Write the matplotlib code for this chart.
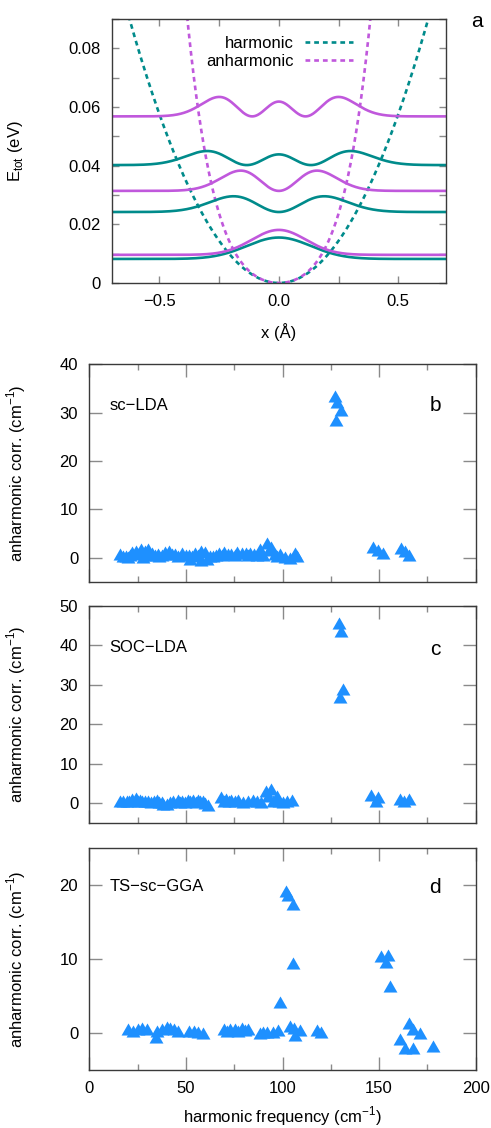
import numpy as np
import matplotlib
matplotlib.use("Agg")
import matplotlib.pyplot as plt
from matplotlib.lines import Line2D
from matplotlib.ticker import MultipleLocator

plt.rcParams['font.family'] = ['Liberation Sans', 'DejaVu Sans']
plt.rcParams['font.size'] = 12
plt.rcParams['axes.unicode_minus'] = True

# ---------------- panel a: potentials and vibrational densities ----------------
# harmonic potential E = k2 x^2 ; anharmonic E = k2 x^2 + k4 x^4 + k6 x^6  (eV, Angstrom)
harm_k = [0.23]
anh_k = [0.23, 2.2, 2.8]

# vibrational states: energy level (eV), quantum number, length scale (A), density scale (eV)
harm_levels = [0.0082, 0.0242, 0.0402]
harm_n = [0, 1, 2]
harm_x0 = [0.19, 0.19, 0.19]
harm_amp = [0.0073, 0.0073, 0.0073]

anh_levels = [0.0096, 0.0314, 0.0568]
anh_n = [0, 1, 2]
anh_x0 = [0.16, 0.16, 0.158]
anh_amp = [0.0085, 0.0094, 0.0101]

# ---------------- panels b-d: anharmonic corrections ----------------
lda_freq = [15.9, 17.5, 18.8, 20.0, 21.0, 22.3, 24.0, 25.2, 26.6, 28.0, 28.8, 30.5,
            31.5, 32.6, 34.0, 35.7, 36.0, 37.5, 39.2, 41.2, 42.8, 44.3, 46.0, 48.1,
            50.0, 51.7, 52.0, 53.2, 54.7, 56.2, 57.8, 58.0, 59.8, 61.0, 62.5, 64.1,
            65.5, 67.1, 68.5, 69.8, 72.0, 73.6, 75.2, 76.7, 78.8, 80.9, 82.0, 83.1,
            85.3, 86.8, 88.3, 90.0, 92.2, 93.0, 94.3, 96.0, 97.0, 98.6, 101.2, 104.0,
            106.4, 107.5,
            127.0, 128.0, 130.5, 127.5,
            147.0, 149.5, 152.0, 161.5, 163.5, 165.5]
lda_corr = [0.7, 0.4, 0.3, 0.1, 0.6, 1.2, 1.4, 0.8, 1.7, 0.2, 1.3, 1.7,
            0.6, 1.0, 0.5, 0.7, 0.3, 0.6, 1.2, 1.3, 0.8, 0.7, 0.4, 0.9,
            0.6, 0.5, -0.3, 0.4, 1.0, 0.6, 1.4, -0.4, 1.2, -0.3, 0.4, 0.3,
            0.5, 0.9, 0.5, 1.2, 0.7, 0.7, 0.5, 1.2, 1.0, 1.0, 0.6, 1.0,
            0.7, 0.5, 1.7, 0.5, 3.0, 1.5, 2.1, 0.8, 0.3, 0.7, 0.2, 0.0,
            1.0, 0.4,
            33.5, 32.3, 30.5, 28.5,
            2.2, 1.6, 0.9, 1.9, 1.3, 0.6]

soc_freq = [15.9, 17.5, 19.3, 20.5, 21.9, 24.0, 25.0, 26.2, 27.5, 28.8, 30.5, 32.0,
            33.5, 34.8, 36.0, 37.4, 38.0, 40.0, 41.8, 43.4, 45.7, 47.0, 48.1, 49.5,
            50.9, 52.3, 53.8, 55.0, 56.4, 57.5, 58.9, 60.0, 61.5, 68.1, 69.5, 71.0,
            72.3, 73.6, 75.2, 77.0, 79.6, 82.0, 84.5, 86.6, 89.0, 91.4, 92.5, 93.8,
            95.0, 96.9, 98.0, 100.0, 102.5, 104.7,
            129.0, 130.5, 131.5, 129.8,
            146.0, 148.5, 149.4, 160.7, 163.0, 165.5]
soc_corr = [0.6, 0.4, 0.6, 0.5, 1.0, 1.3, 0.5, 0.85, 0.4, 0.6, 0.6, 0.2,
            0.5, 0.85, 0.3, 0.2, -0.2, -0.25, 0.3, 0.4, 0.85, 0.3, 0.6, 0.3,
            0.85, 0.4, 0.85, 0.3, 0.85, 0.4, 0.4, 0.1, -0.5, 1.4, 0.5, 1.0,
            0.4, 0.85, 0.4, 0.85, 0.2, 0.4, 0.85, 0.6, 0.3, 3.1, 1.8, 3.6,
            0.6, 1.7, 0.4, 0.2, 0.5, 0.85,
            45.5, 43.5, 28.8, 26.8,
            1.9, 0.6, 1.4, 1.0, 0.5, 1.0]

ts_freq = [19.8, 22.5, 25.4, 27.4, 29.7, 34.3, 34.8, 37.4, 40.0, 41.7, 44.0, 46.0,
           51.6, 54.3, 56.5, 58.9, 69.8, 71.2, 72.8, 75.3, 77.0, 78.8, 80.5, 82.2,
           88.3, 90.0, 92.2, 95.0, 97.7, 103.8, 106.0, 106.5, 108.9, 117.6, 120.0,
           102.0, 103.0, 105.5, 105.5, 98.6,
           151.2, 154.6, 153.5, 155.5,
           165.5, 167.4, 171.4, 161.0, 163.2, 167.4, 177.9]
ts_corr = [0.5, 0.3, 0.6, 0.7, 0.5, -0.6, 0.27, 0.5, 0.8, 0.7, 0.5, 0.3,
           0.27, 0.27, 0.2, 0.05, 0.5, 0.3, 0.5, 0.5, 0.3, 0.7, 0.4, 0.6,
           0.05, 0.1, 0.2, 0.1, 0.36, 0.95, 0.7, -0.2, 0.36, 0.36, 0.2,
           19.2, 18.7, 17.4, 9.5, 4.2,
           10.4, 10.5, 9.6, 6.4,
           1.4, 0.5, 0.0, -0.8, -2.0, -2.0, -1.75]

TEAL = '#008b8b'
VIOLET = '#c058dc'
BLUE = '#1e90ff'
SPINE = '#3a3a3a'
TICK = '#8a8a8a'

W, H = 491, 1128
fig = plt.figure(figsize=(W / 100, H / 100), dpi=100)


def px_axes(l, t, r, b):
    return fig.add_axes([l / W, 1 - b / H, (r - l) / W, (b - t) / H])


def style_axes(ax, major_len, minor_len):
    for s in ax.spines.values():
        s.set_color(SPINE)
        s.set_linewidth(1.0)
    ax.tick_params(which='both', direction='in', top=True, right=True,
                   color=TICK, width=1.0, labelsize=12, pad=8)
    ax.tick_params(which='major', length=major_len)
    ax.tick_params(which='minor', length=minor_len)


def density(x, n, x0):
    xi = x / x0
    if n == 0:
        return np.exp(-xi ** 2)
    if n == 1:
        return 2 * xi ** 2 * np.exp(-xi ** 2)
    return (2 * xi ** 2 - 1) ** 2 / 2 * np.exp(-xi ** 2)


# ---- panel a ----
axa = px_axes(111.7, 19, 446, 283)
x = np.linspace(-0.7, 0.7, 1201)
v_harm = harm_k[0] * x ** 2
v_anh = anh_k[0] * x ** 2 + anh_k[1] * x ** 4 + anh_k[2] * x ** 6
dash = (1.8, 1.5)
axa.plot(x, v_harm, color=TEAL, lw=1.9, dashes=dash)
axa.plot(x, v_anh, color=VIOLET, lw=1.9, dashes=dash)
for lev, n, x0, a in zip(harm_levels, harm_n, harm_x0, harm_amp):
    axa.plot(x, lev + a * density(x, n, x0), color=TEAL, lw=1.9)
for lev, n, x0, a in zip(anh_levels, anh_n, anh_x0, anh_amp):
    axa.plot(x, lev + a * density(x, n, x0), color=VIOLET, lw=1.9)
axa.set_xlim(-0.7, 0.7)
axa.set_ylim(0, 0.09)
axa.set_xticks([-0.5, 0.0, 0.5])
axa.set_xticklabels(['\u22120.5', '0.0', '0.5'])
axa.xaxis.set_minor_locator(MultipleLocator(0.25))
axa.set_yticks([0, 0.02, 0.04, 0.06, 0.08])
axa.set_yticklabels(['0', '0.02', '0.04', '0.06', '0.08'])
axa.yaxis.set_minor_locator(MultipleLocator(0.01))
style_axes(axa, 5, 5)
axa.set_xlabel('x (\u00c5)', fontsize=12, labelpad=10)
axa.set_ylabel('E$_\\mathregular{tot}$ (eV)', fontsize=12)
axa.yaxis.set_label_coords(-0.259, 0.5)
handles = [Line2D([], [], color=TEAL, lw=1.9, dashes=dash),
           Line2D([], [], color=VIOLET, lw=1.9, dashes=dash)]
axa.legend(handles, ['harmonic', 'anharmonic'], loc='upper right',
           bbox_to_anchor=(0.7227, 0.935), markerfirst=False, frameon=False,
           handlelength=2.9, handletextpad=0.7, labelspacing=0.15,
           borderpad=0, borderaxespad=0, fontsize=12)
fig.text(476.7 / W, 1 - 26.7 / H, 'a', fontsize=15, ha='center', va='baseline')

# ---- panels b-d ----
tri = [(0, 0.87), (-1, -0.87), (1, -0.87)]
panels = [
    (px_axes(89.3, 364.3, 475.7, 581.8), lda_freq, lda_corr, (-5, 40),
     [0, 10, 20, 30, 40], 'sc\u2212LDA', 0.79, 'b', 0.787),
    (px_axes(89.3, 605.7, 475.7, 822.7), soc_freq, soc_corr, (-5, 50),
     [0, 10, 20, 30, 40, 50], 'SOC\u2212LDA', 0.785, 'c', 0.773),
    (px_axes(89.3, 848.3, 475.7, 1070), ts_freq, ts_corr, (-5, 25),
     [0, 10, 20], 'TS\u2212sc\u2212GGA', 0.807, 'd', 0.797),
]
for i, (ax, fx, fy, ylim, yt, name, ny, letter, ly) in enumerate(panels):
    ax.plot(fx, fy, linestyle='none', marker=tri, ms=10, color=BLUE,
            markeredgewidth=0)
    ax.set_xlim(0, 200)
    ax.set_ylim(*ylim)
    ax.set_xticks([0, 50, 100, 150, 200])
    ax.xaxis.set_minor_locator(MultipleLocator(25))
    ax.set_yticks(yt)
    style_axes(ax, 9.5, 4.5)
    ax.set_ylabel('anharmonic corr. (cm$^{\\mathregular{-1}}$)', fontsize=12)
    ax.yaxis.set_label_coords(-0.159, 0.5)
    ax.text(0.052, ny, name, transform=ax.transAxes, fontsize=12,
            ha='left', va='baseline')
    ax.text(0.895, ly, letter, transform=ax.transAxes, fontsize=15,
            ha='center', va='baseline')
    if i < 2:
        ax.set_xticklabels([])
    else:
        ax.set_xlabel('harmonic frequency (cm$^{\\mathregular{-1}}$)', fontsize=12,
                      labelpad=6)

fig.savefig('out.png', dpi=100)
